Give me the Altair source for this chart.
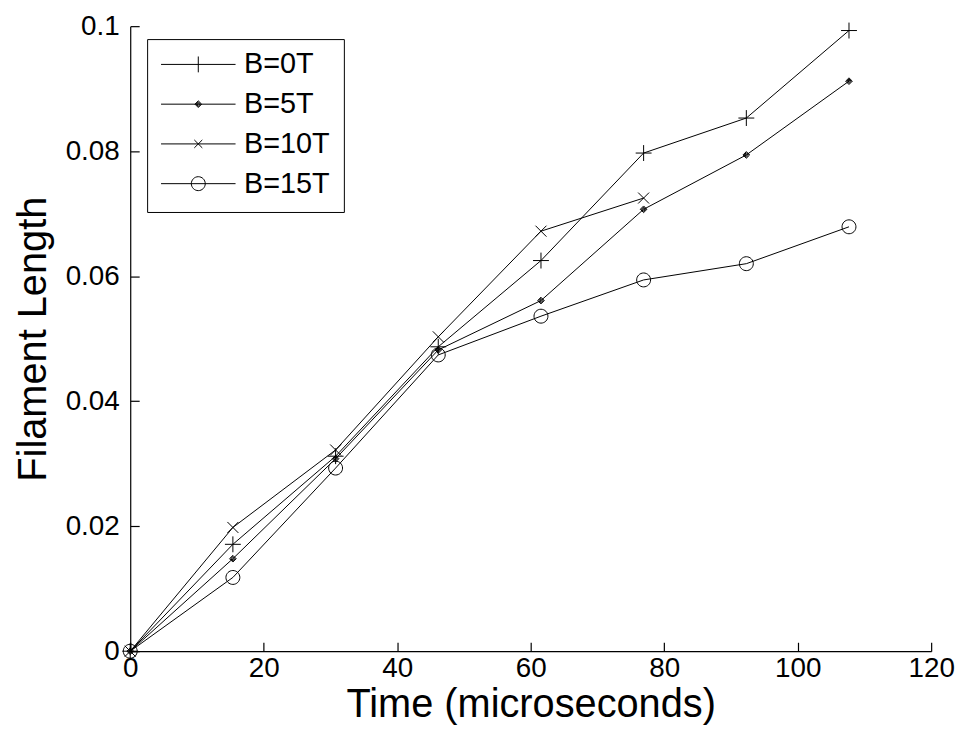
import altair as alt
import pandas as pd

FONT = "Liberation Sans"

# ---- data ----
time_us = [0, 15.38, 30.77, 46.15, 61.54, 76.92, 92.31, 107.69]
series_names = ["B=0T", "B=5T", "B=10T", "B=15T"]
b0 = [0, 0.0171, 0.0312, 0.0487, 0.0625, 0.0797, 0.0853, 0.0993]
b5 = [0, 0.0148, 0.0308, 0.0482, 0.0561, 0.0707, 0.0794, 0.0912]
b10 = [0, 0.0198, 0.0322, 0.0503, 0.0672, 0.0725]
b15 = [0, 0.0118, 0.0293, 0.0474, 0.0536, 0.0594, 0.0620, 0.0679]
x_ticks = [0, 20, 40, 60, 80, 100, 120]
y_ticks = [0, 0.02, 0.04, 0.06, 0.08, 0.1]

rows = []
for name, vals in zip(series_names, [b0, b5, b10, b15]):
    for t, v in zip(time_us, vals):
        rows.append({"series": name, "time": t, "length": v})
df = pd.DataFrame(rows)

# ---- marker shapes (unit paths) ----
marker_paths = [
    "M-1,0H1M0,-1V1",
    "M0,-0.42L0.42,0L0,0.42L-0.42,0ZM0,-0.28L0.28,0L0,0.28L-0.28,0ZM0,-0.14L0.14,0L0,0.14L-0.14,0Z",
    "M-0.69,-0.69L0.69,0.69M-0.69,0.69L0.69,-0.69",
    "M0.875,0A0.875,0.875 0 1,1 -0.875,0A0.875,0.875 0 1,1 0.875,0Z",
]
legend_paths = [
    "M-1,0H1M0,-0.213V0.213",
    "M-1,0H1M0,-0.09L0.09,0L0,0.09L-0.09,0ZM0,-0.06L0.06,0L0,0.06L-0.06,0ZM0,-0.03L0.03,0L0,0.03L-0.03,0Z",
    "M-1,0H1M-0.107,-0.107L0.107,0.107M-0.107,0.107L0.107,-0.107",
    "M-1,0H1M0.187,0A0.187,0.187 0 1,1 -0.187,0A0.187,0.187 0 1,1 0.187,0Z",
]

W, H = 806, 629
x_scale = alt.Scale(domain=[0, 120], nice=False, zero=False)
y_scale = alt.Scale(domain=[0, 0.1], nice=False)

base = alt.Chart(df)

lines = base.mark_line(color="black", strokeWidth=1).encode(
    x=alt.X("time:Q", scale=x_scale, title="Time (microseconds)",
            axis=alt.Axis(orient="bottom", values=x_ticks, ticks=False, grid=False,
                          labelFlush=False, domainColor="black", domainWidth=1.2,
                          labelFont=FONT, labelFontSize=28, labelColor="black",
                          labelPadding=3, titleFont=FONT, titleFontSize=40,
                          titleFontWeight="normal", titleColor="black", titlePadding=3)),
    y=alt.Y("length:Q", scale=y_scale, title="Filament Length",
            axis=alt.Axis(orient="left", values=y_ticks, format="~g", ticks=False, grid=False,
                          domainColor="black", domainWidth=1.2,
                          labelFont=FONT, labelFontSize=28, labelColor="black",
                          labelPadding=11, titleFont=FONT, titleFontSize=40,
                          titleFontWeight="normal", titleColor="black", titlePadding=12)),
    detail="series:N",
)

points = base.mark_point(filled=False, color="black", opacity=1, size=256, strokeWidth=1).encode(
    x=alt.X("time:Q", scale=x_scale, axis=None),
    y=alt.Y("length:Q", scale=y_scale, axis=None),
    shape=alt.Shape("series:N", scale=alt.Scale(domain=series_names, range=marker_paths), legend=None),
)

legend_layer = base.transform_filter("false").mark_point(
    filled=False, color="black", opacity=1, strokeWidth=1
).encode(
    x=alt.X("time:Q", scale=x_scale, title="",
            axis=alt.Axis(orient="top", offset=-H, values=x_ticks, labels=False, domain=False,
                          ticks=True, tickSize=9, tickColor="black", tickWidth=1.2, grid=False)),
    y=alt.Y("length:Q", scale=y_scale, title="",
            axis=alt.Axis(orient="right", offset=-W, values=y_ticks, labels=False, domain=False,
                          ticks=True, tickSize=9, tickColor="black", tickWidth=1.2, grid=False)),
    shape=alt.Shape("series:N", scale=alt.Scale(domain=series_names, range=legend_paths),
                    legend=alt.Legend(orient="none", legendX=17, legendY=13, title=None,
                                      direction="vertical", symbolSize=5625, symbolStrokeWidth=1,
                                      symbolStrokeColor="black", symbolFillColor="transparent",
                                      clipHeight=24, rowPadding=11, labelOffset=8,
                                      labelFont=FONT, labelFontSize=29, labelColor="black",
                                      padding=13.5, strokeColor="black", fillColor="white")),
)

chart = alt.layer(lines, points, legend_layer).resolve_scale(
    shape="independent"
).resolve_axis(
    x="independent", y="independent"
).properties(
    width=W, height=H,
    autosize=alt.AutoSizeParams(type="none"),
    padding={"left": 123, "top": 16, "right": 25, "bottom": 75},
    background="white",
).configure_view(strokeWidth=0)

chart.save("out.html", embed_options={"renderer": "svg", "actions": False})
